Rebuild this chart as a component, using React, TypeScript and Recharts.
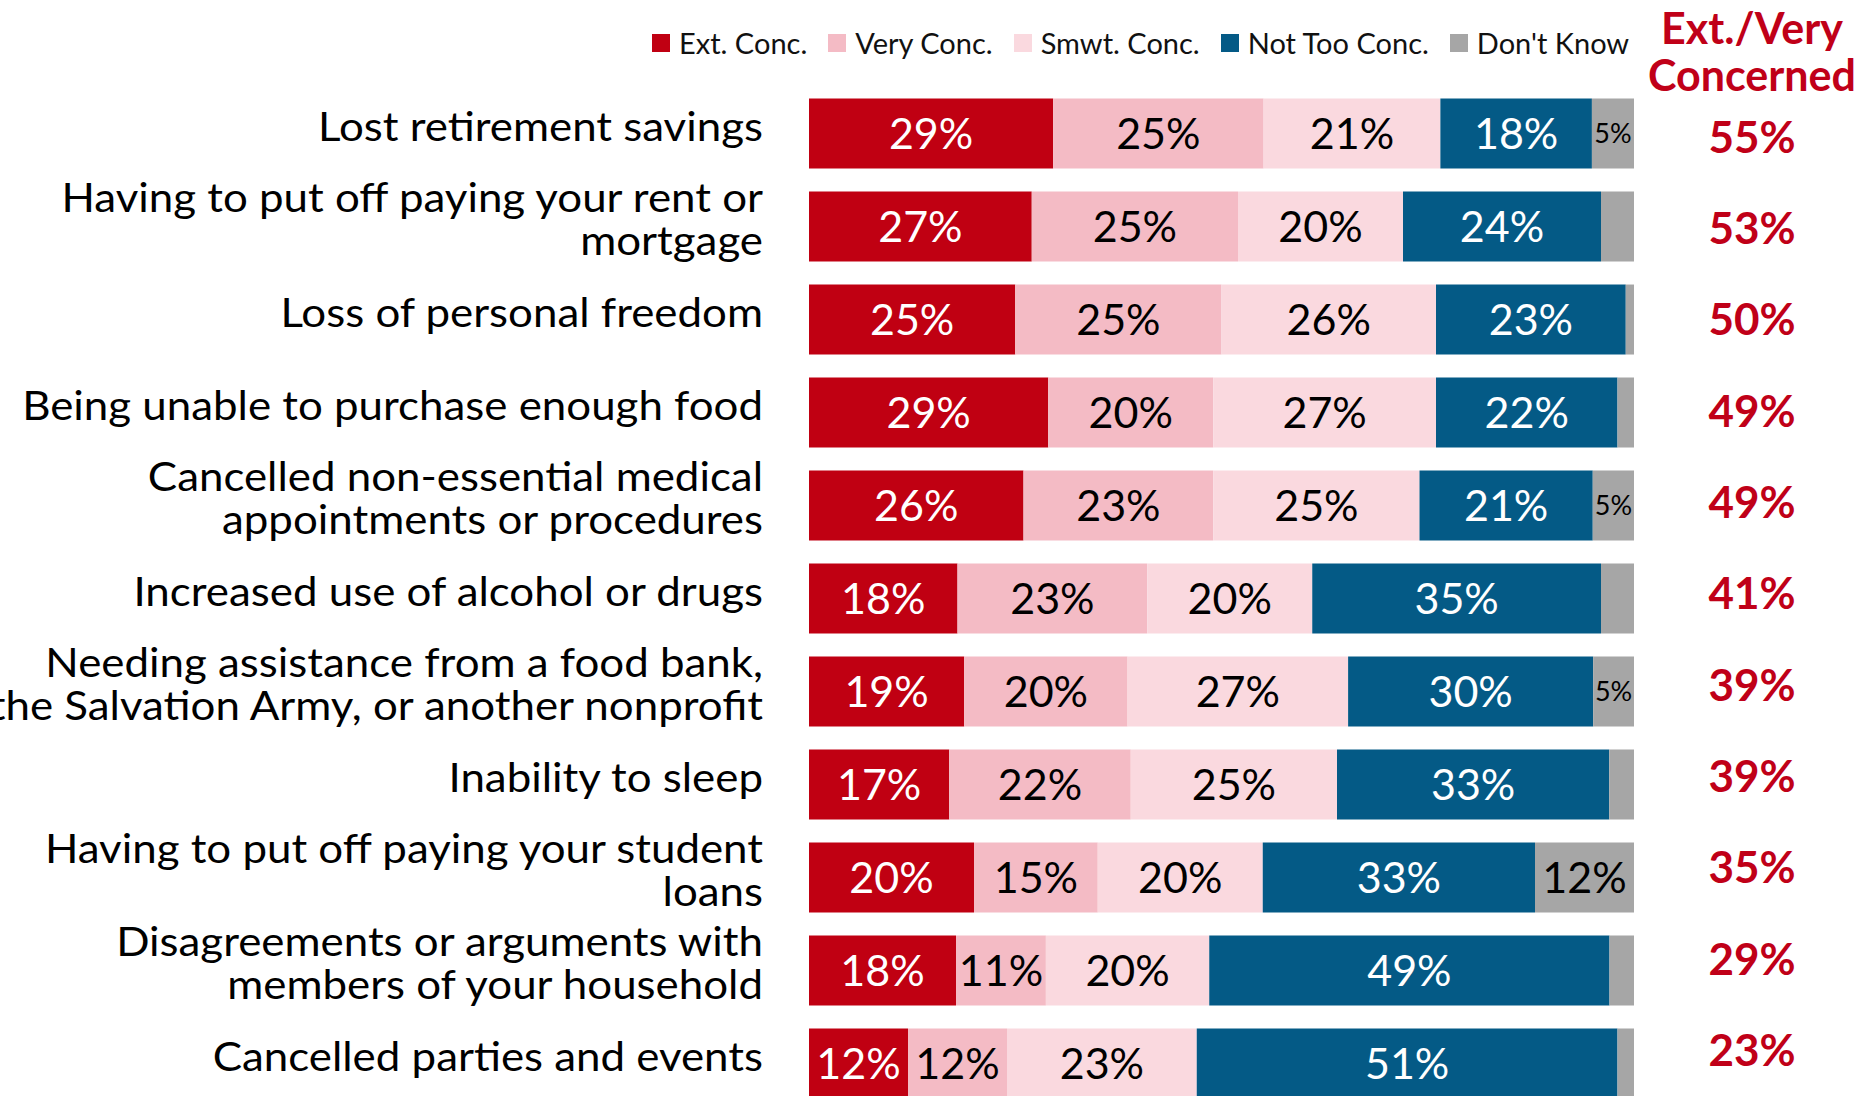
import React from "react";
import { Bar, BarChart, LabelList, XAxis, YAxis } from "recharts";

const categories = [
  "Lost retirement savings",
  "Having to put off paying your rent or\nmortgage",
  "Loss of personal freedom",
  "Being unable to purchase enough food",
  "Cancelled non-essential medical\nappointments or procedures",
  "Increased use of alcohol or drugs",
  "Needing assistance from a food bank,\nthe Salvation Army, or another nonprofit",
  "Inability to sleep",
  "Having to put off paying your student\nloans",
  "Disagreements or arguments with\nmembers of your household",
  "Cancelled parties and events",
];

const extConc = [29, 27, 25, 29, 26, 18, 19, 17, 20, 18, 12];
const veryConc = [25, 25, 25, 20, 23, 23, 20, 22, 15, 11, 12];
const smwtConc = [21, 20, 26, 27, 25, 20, 27, 25, 20, 20, 23];
const notTooConc = [18, 24, 23, 22, 21, 35, 30, 33, 33, 49, 51];
const dontKnow = [5, 4, 1, 2, 5, 4, 5, 3, 12, 3, 2];
const extVeryTotal = [55, 53, 50, 49, 49, 41, 39, 39, 35, 29, 23];

const series = [
  { key: "ext", name: "Ext. Conc.", values: extConc, color: "#C00012", text: "#FFFFFF" },
  { key: "very", name: "Very Conc.", values: veryConc, color: "#F4BBC5", text: "#000000" },
  { key: "smwt", name: "Smwt. Conc.", values: smwtConc, color: "#FAD9DF", text: "#000000" },
  { key: "notToo", name: "Not Too Conc.", values: notTooConc, color: "#045A86", text: "#FFFFFF" },
  { key: "dk", name: "Don't Know", values: dontKnow, color: "#A6A6A6", text: "#000000" },
];

const data = categories.map((name, i) => {
  const row: Record<string, string | number> = { name, total: extVeryTotal[i] };
  series.forEach((s) => {
    row[s.key] = s.values[i];
  });
  return row;
});

const FONT = "Lato, 'Open Sans', sans-serif";
const RED = "#C00018";

function CategoryTick(props: any) {
  const { x, y, payload } = props;
  const lines = String(payload.value).split("\n");
  const pitch = 43;
  const first = lines.length === 1 ? 7 : -14.5;
  return (
    <g transform={`translate(${x},${y}) scale(1.07,1)`}>
      {lines.map((line, i) => (
        <text
          key={i}
          x={0}
          y={first + i * pitch}
          textAnchor="end"
          fontSize={41}
          fontFamily={FONT}
          fill="#000"
        >
          {line}
        </text>
      ))}
    </g>
  );
}

function TotalTick(props: any) {
  const { x, y, index } = props;
  return (
    <text
      x={x}
      y={y}
      dy="0.36em"
      textAnchor="middle"
      fontSize={44}
      fontWeight={700}
      fontFamily={FONT}
      fill={RED}
    >
      {extVeryTotal[index]}%
    </text>
  );
}

function segmentLabel(values: number[], color: string) {
  return (props: any) => {
    const x = Number(props.x);
    const y = Number(props.y);
    const width = Number(props.width);
    const height = Number(props.height);
    const v = values[props.index];
    if (v == null || v < 5) return null;
    const fontSize = width < 70 ? 27 : 43;
    return (
      <text
        x={x + width / 2}
        y={y + height / 2}
        dy="0.36em"
        textAnchor="middle"
        fontSize={fontSize}
        fontFamily={FONT}
        fill={color}
      >
        {v}%
      </text>
    );
  };
}

const headerLine: React.CSSProperties = {
  position: "absolute",
  left: 1612,
  width: 280,
  height: 42,
  textAlign: "center",
  fontSize: 43,
  lineHeight: "42px",
  fontWeight: 700,
  color: RED,
  whiteSpace: "nowrap",
};

export default function App() {
  return (
    <div
      style={{
        position: "fixed",
        left: 0,
        top: 0,
        width: 1862,
        height: 1096,
        overflow: "hidden",
        background: "#fff",
        fontFamily: FONT,
      }}
    >
      <div
        style={{
          position: "absolute",
          left: 652,
          top: 29,
          display: "flex",
          alignItems: "center",
          fontSize: 29,
          lineHeight: "28px",
          color: "#111",
          whiteSpace: "nowrap",
        }}
      >
        {series.map((s) => (
          <div key={s.key} style={{ display: "flex", alignItems: "center", marginRight: 21 }}>
            <span style={{ width: 18, height: 18, background: s.color, marginRight: 9, display: "inline-block" }} />
            <span>{s.name}</span>
          </div>
        ))}
      </div>
      <div style={{ ...headerLine, top: 7 }}>Ext./Very</div>
      <div style={{ ...headerLine, top: 54 }}>Concerned</div>
      <BarChart
        width={1862}
        height={1115}
        data={data}
        layout="vertical"
        stackOffset="expand"
        barCategoryGap="12.4%"
        margin={{ top: 87, right: 0, bottom: 5, left: 0 }}
        style={{ position: "absolute", left: 0, top: 0 }}
      >
        <XAxis type="number" domain={[0, 1]} hide />
        <YAxis
          type="category"
          dataKey="name"
          width={809}
          axisLine={false}
          tickLine={false}
          tickSize={0}
          tickMargin={46}
          interval={0}
          tick={<CategoryTick />}
        />
        <YAxis
          yAxisId="totals"
          orientation="right"
          type="category"
          dataKey="name"
          width={228}
          axisLine={false}
          tickLine={false}
          tickSize={0}
          tickMargin={118}
          interval={0}
          padding={{ top: 4, bottom: 14 }}
          tick={<TotalTick />}
        />
        {series.map((s) => (
          <Bar key={s.key} dataKey={s.key} name={s.name} stackId="a" fill={s.color} isAnimationActive={false}>
            <LabelList dataKey={s.key} content={segmentLabel(s.values, s.text)} />
          </Bar>
        ))}
      </BarChart>
    </div>
  );
}
